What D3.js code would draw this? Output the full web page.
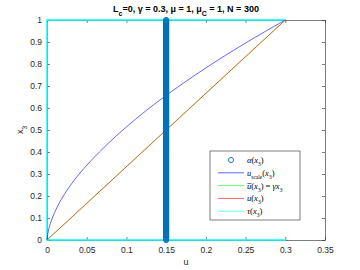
<!DOCTYPE html>
<html>
<head>
<meta charset="utf-8">
<script src="https://cdn.jsdelivr.net/npm/d3@7"></script>
<style>
  body { margin: 0; background: #fff; }
  svg { display: block; font-family: "Liberation Sans", Arial, sans-serif; }
  .tick text { fill: #262626; font-size: 8.5px; }
  .math { font-family: "Liberation Serif", "DejaVu Serif", serif; font-size: 8.5px; fill: #000; }
</style>
</head>
<body>
<svg id="canvas"></svg>
<script>
// chart values
const N = 300
const alphaU = 0.15
const xTicks = [0, 0.05, 0.1, 0.15, 0.2, 0.25, 0.3, 0.35]
const yTicks = [0, 0.1, 0.2, 0.3, 0.4, 0.5, 0.6, 0.7, 0.8, 0.9, 1]
const scaleX3 = [0, 0.05, 0.1, 0.2, 0.3, 0.4, 0.5, 0.6, 0.7, 0.8, 0.9, 1]
const scaleU = [0, 0.0022, 0.0067, 0.0205, 0.0405, 0.066, 0.0955, 0.129, 0.1665, 0.2075, 0.252, 0.3]
const lineX3 = [0, 1]
const lineU = [0, 0.3]
const tauX3 = [0, 0, 1, 1]
const tauU = [0.3, 0, 0, 0.3]
const alphaX3 = d3.range(N).map(i => i / (N - 1))

const w = 360
const h = 270
const margin = { top: 20, right: 35, bottom: 30, left: 47 }
const canvas = d3.select('#canvas').attr('width', w).attr('height', h)

const xScale = d3.scaleLinear().domain([0, 0.35]).range([margin.left, w - margin.right])
const yScale = d3.scaleLinear().domain([0, 1]).range([h - margin.bottom, margin.top])

const axisColor = '#262626'

const drawAxes = () => {
  canvas.append('g')
    .attr('transform', 'translate(0,' + yScale(0) + ')')
    .call(d3.axisBottom(xScale).tickValues(xTicks).tickFormat(d3.format('')).tickSizeInner(-3).tickSizeOuter(0).tickPadding(7))
  canvas.append('g')
    .attr('transform', 'translate(' + xScale(0) + ',0)')
    .call(d3.axisLeft(yScale).tickValues(yTicks).tickFormat(d3.format('')).tickSizeInner(-3).tickSizeOuter(0).tickPadding(5))
  // mirrored ticks on top and right
  canvas.append('g')
    .attr('transform', 'translate(0,' + yScale(1) + ')')
    .call(d3.axisTop(xScale).tickValues(xTicks).tickFormat('').tickSizeInner(-3).tickSizeOuter(0))
  canvas.append('g')
    .attr('transform', 'translate(' + xScale(0.35) + ',0)')
    .call(d3.axisRight(yScale).tickValues(yTicks).tickFormat('').tickSizeInner(-3).tickSizeOuter(0))
  canvas.selectAll('.domain, .tick line').attr('stroke', axisColor).attr('stroke-width', 0.6)
}

const drawLines = () => {
  const line = d3.line().x(d => xScale(d[0])).y(d => yScale(d[1]))
  // tau
  canvas.append('path')
    .attr('d', line(tauU.map((u, i) => [u, tauX3[i]])))
    .attr('fill', 'none').attr('stroke', '#00ffff').attr('stroke-width', 1.4)
  // u_scale
  canvas.append('path')
    .attr('d', d3.line().x(d => xScale(d[0])).y(d => yScale(d[1])).curve(d3.curveMonotoneY)(scaleU.map((u, i) => [u, scaleX3[i]])))
    .attr('fill', 'none').attr('stroke', '#0000ff').attr('stroke-width', 0.8).attr('stroke-opacity', 0.75)
  // ubar = gamma x3 (green), then u (red) on top
  canvas.append('path')
    .attr('d', line(lineU.map((u, i) => [u, lineX3[i]])))
    .attr('fill', 'none').attr('stroke', '#00ff00').attr('stroke-width', 0.4)
  canvas.append('path')
    .attr('d', line(lineU.map((u, i) => [u, lineX3[i]])))
    .attr('fill', 'none').attr('stroke', '#d95319').attr('stroke-width', 0.9)
  // alpha markers
  canvas.append('g').selectAll('circle')
    .data(alphaX3)
    .enter()
    .append('circle')
    .attr('cx', xScale(alphaU))
    .attr('cy', d => yScale(d))
    .attr('r', 2.6)
    .attr('fill', 'none')
    .attr('stroke', '#0072bd')
    .attr('stroke-width', 1)
}

const drawText = () => {
  const title = canvas.append('text')
    .attr('x', (xScale(0) + xScale(0.35)) / 2)
    .attr('y', 12)
    .attr('text-anchor', 'middle')
    .attr('font-weight', 'bold')
    .attr('font-size', '9px')
    .attr('fill', '#000')
  title.append('tspan').text('L')
  title.append('tspan').attr('baseline-shift', 'sub').attr('font-size', '7px').text('c')
  title.append('tspan').text('=0, \u03b3 = 0.3, \u03bc = 1, \u03bc')
  title.append('tspan').attr('baseline-shift', 'sub').attr('font-size', '7px').text('C')
  title.append('tspan').text(' = 1, N = 300')

  canvas.append('text')
    .attr('x', (xScale(0) + xScale(0.35)) / 2)
    .attr('y', 265)
    .attr('text-anchor', 'middle')
    .attr('font-size', '9px')
    .attr('fill', axisColor)
    .text('u')

  const yl = canvas.append('text')
    .attr('transform', 'translate(23,' + yScale(0.5) + ') rotate(-90)')
    .attr('text-anchor', 'middle')
    .attr('font-size', '9px')
    .attr('fill', axisColor)
  yl.append('tspan').text('x')
  yl.append('tspan').attr('baseline-shift', 'sub').attr('font-size', '6.5px').text('3')
}

const drawLegend = () => {
  const lx = 210
  const ly = 151
  const lw = 90
  const lh = 69
  const items = [
    { key: 'alpha', color: '#0072bd' },
    { key: 'scale', color: '#6666ff' },
    { key: 'ubar', color: '#66ff66' },
    { key: 'u', color: '#ff6666' },
    { key: 'tau', color: '#66ffff' }
  ]
  const g = canvas.append('g')
  g.append('rect').attr('x', lx).attr('y', ly).attr('width', lw).attr('height', lh)
    .attr('fill', '#fff').attr('stroke', axisColor).attr('stroke-width', 0.6)
  items.forEach((it, i) => {
    const y = ly + 9 + i * 12.8
    if (it.key === 'alpha') {
      g.append('circle').attr('cx', 231).attr('cy', y).attr('r', 2.6)
        .attr('fill', 'none').attr('stroke', it.color).attr('stroke-width', 0.9)
    } else {
      g.append('line').attr('x1', 218).attr('x2', 244).attr('y1', y).attr('y2', y)
        .attr('stroke', it.color).attr('stroke-width', 1)
    }
    const t = g.append('text').attr('class', 'math').attr('x', 247).attr('y', y + 3)
    const sub = s => t.append('tspan').attr('baseline-shift', 'sub').attr('font-size', '5.5px').text(s)
    const it_ = s => t.append('tspan').attr('font-style', 'italic').text(s)
    const up = s => t.append('tspan').text(s)
    if (it.key === 'alpha') { it_('\u03b1'); up('('); it_('x'); sub('3'); up(')') }
    if (it.key === 'scale') { it_('u'); sub('scale'); up('('); it_('x'); sub('3'); up(')') }
    if (it.key === 'ubar') { it_('u\u0305'); up('('); it_('x'); sub('3'); up(') = '); it_('\u03b3x'); sub('3') }
    if (it.key === 'u') { it_('u'); up('('); it_('x'); sub('3'); up(')') }
    if (it.key === 'tau') { it_('\u03c4'); up('('); it_('x'); sub('3'); up(')') }
  })
}

drawAxes()
drawLines()
drawText()
drawLegend()
</script>
</body>
</html>
